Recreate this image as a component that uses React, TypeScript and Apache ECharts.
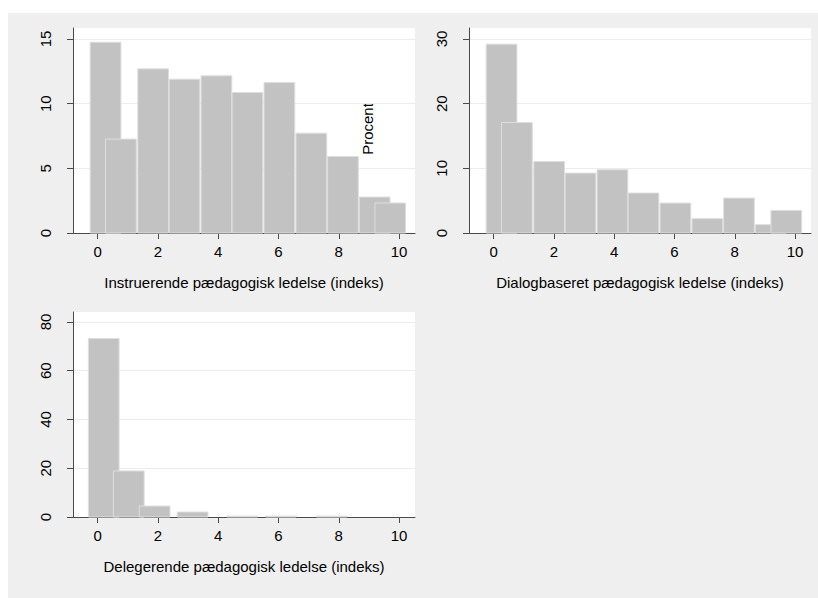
import React, { useEffect, useRef } from "react";
import * as echarts from "echarts";

// Bin centres (index value) and percentages
const binCentersAB = [0.26, 0.77, 1.84, 2.88, 3.94, 4.97, 6.03, 7.09, 8.14, 9.19, 9.71];
const instruerende = [14.75, 7.26, 12.69, 11.89, 12.15, 10.86, 11.63, 7.72, 5.92, 2.78, 2.32];
const dialogbaseret = [29.2, 17.08, 11.06, 9.26, 9.78, 6.18, 4.63, 2.21, 5.4, 1.29, 3.49];
const binCentersC = [0.2, 1.03, 1.89, 3.15, 4.8, 6.08, 7.77];
const delegerende = [73.2, 18.9, 4.5, 2.05, 0.35, 0.35, 0.35];
const binWidth = 1.02;

const xTicks = [0, 2, 4, 6, 8, 10];
const yTicks1 = [0, 5, 10, 15];
const yTicks2 = [0, 10, 20, 30];
const yTicks3 = [0, 20, 40, 60, 80];

const titles = [
  "Instruerende pædagogisk ledelse (indeks)",
  "Dialogbaseret pædagogisk ledelse (indeks)",
  "Delegerende pædagogisk ledelse (indeks)",
];
const yTitle = "Procent";

const FONT = "'Liberation Sans', Arial, Helvetica, sans-serif";

export default function App() {
  const ref = useRef<HTMLDivElement>(null);
  useEffect(() => {
    if (!ref.current) return;
    const chart = echarts.init(ref.current, undefined, { renderer: "svg" });

    const grids = [
      { left: 65, top: 15, width: 342, height: 205 },
      { left: 461, top: 15, width: 342, height: 205 },
      { left: 65, top: 299, width: 342, height: 205 },
    ].map((g) => ({ ...g, show: true, backgroundColor: "#ffffff", borderWidth: 0 }));

    const axisLineStyle = { color: "#4a4a4a", width: 1 };

    const xAxes = [0, 1, 2].map((i) => ({
      type: "value",
      gridIndex: i,
      min: -0.82,
      max: 10.53,
      name: titles[i],
      nameLocation: "middle",
      nameGap: 42,
      nameTextStyle: { fontFamily: FONT, fontSize: 15, color: "#000" },
      axisLine: { show: true, onZero: false, lineStyle: axisLineStyle },
      axisTick: { show: true, length: 6, lineStyle: axisLineStyle, customValues: xTicks },
      axisLabel: { show: true, margin: 11, fontFamily: FONT, fontSize: 15, color: "#000", customValues: xTicks },
      splitLine: { show: false },
    }));

    const yRanges = [
      { max: 15.85, ticks: yTicks1 },
      { max: 31.7, ticks: yTicks2 },
      { max: 84.1, ticks: yTicks3 },
    ];
    const yAxes = yRanges.map((r, i) => ({
      type: "value",
      gridIndex: i,
      min: 0,
      max: r.max,
      axisLine: { show: true, onZero: false, lineStyle: axisLineStyle },
      axisTick: { show: true, length: 6, lineStyle: axisLineStyle, customValues: r.ticks },
      axisLabel: {
        show: true,
        rotate: 90,
        margin: 20,
        fontFamily: FONT,
        fontSize: 15,
        color: "#000",
        customValues: r.ticks,
      },
      splitLine: { show: true, lineStyle: { color: "#ececec", width: 1 } },
    }));

    const renderBar = (params: any, api: any) => {
      const c = api.value(0);
      const h = api.value(1);
      const p0 = api.coord([c - binWidth / 2, h]);
      const p1 = api.coord([c + binWidth / 2, 0]);
      return {
        type: "rect",
        shape: { x: p0[0], y: p0[1], width: p1[0] - p0[0], height: p1[1] - p0[1] },
        style: { fill: "#c2c2c2", stroke: "#dedede", lineWidth: 1 },
      };
    };

    const sets = [
      { centers: binCentersAB, values: instruerende },
      { centers: binCentersAB, values: dialogbaseret },
      { centers: binCentersC, values: delegerende },
    ];
    const series = sets.map((s, i) => ({
      type: "custom",
      xAxisIndex: i,
      yAxisIndex: i,
      renderItem: renderBar,
      encode: { x: 0, y: 1 },
      data: s.centers.map((c, j) => [c, s.values[j]]),
      clip: false,
    }));

    chart.setOption({
      animation: false,
      backgroundColor: "#efefef",
      grid: grids,
      xAxis: xAxes,
      yAxis: yAxes,
      series,
      graphic: [
        {
          type: "text",
          x: 359.5,
          y: 116,
          rotation: Math.PI / 2,
          style: {
            text: yTitle,
            fontFamily: FONT,
            fontSize: 15,
            fill: "#000",
            align: "center",
            verticalAlign: "middle",
          },
        },
      ],
    });
    return () => chart.dispose();
  }, []);

  return (
    <div
      ref={ref}
      style={{ position: "absolute", left: 8, top: 13, width: 810, height: 585 }}
    />
  );
}
